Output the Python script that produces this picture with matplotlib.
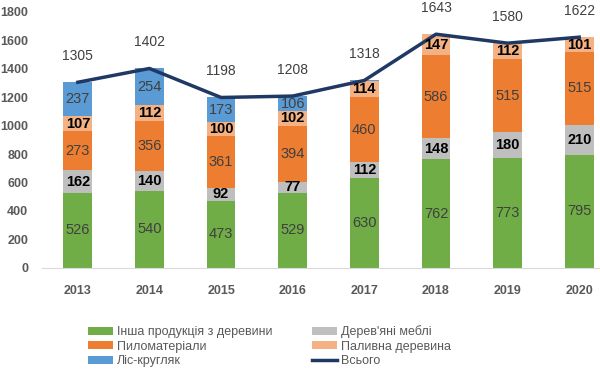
import numpy as np
from matplotlib import pyplot as plt

years = ['2013', '2014', '2015', '2016', '2017', '2018', '2019', '2020']

# values, thousand units
other_wood = [526, 540, 473, 529, 630, 762, 773, 795]
furniture = [162, 140, 92, 77, 112, 148, 180, 210]
sawn_timber = [273, 356, 361, 394, 460, 586, 515, 515]
fuel_wood = [107, 112, 100, 102, 114, 147, 112, 101]
round_wood = [237, 254, 173, 106, 2, 0, 0, 0]
total = [1305, 1402, 1198, 1208, 1318, 1643, 1580, 1622]

series = [
    ('Інша продукція з деревини', other_wood, '#70AD47', False),
    ("Дерев'яні меблі", furniture, '#BFBFBF', True),
    ('Пиломатеріали', sawn_timber, '#ED7D31', False),
    ('Паливна деревина', fuel_wood, '#F4B183', True),
    ('Ліс-кругляк', round_wood, '#5B9BD5', False),
]

plt.rcParams['font.family'] = ['Liberation Sans', 'DejaVu Sans']

fig = plt.figure(figsize=(6, 3.71), dpi=100)
ax = fig.add_axes([0.07, 0.278, 0.93, 0.69])

x = np.arange(len(years))
bottom = np.zeros(len(years))
handles = {}
for name, vals, color, bold in series:
    vals = np.array(vals, dtype=float)
    bars = ax.bar(x, vals, width=0.4, bottom=bottom, color=color, label=name)
    handles[name] = bars
    for xi, b, v in zip(x, bottom, vals):
        if v < 20:
            continue
        ax.text(xi, b + v / 2, str(int(v)), ha='center', va='center',
                fontsize=10.5, color='black' if bold else '#404040',
                fontweight='bold' if bold else 'normal')
    bottom += vals

line, = ax.plot(x, total, color='#1F3864', linewidth=2.5, label='Всього')
for xi, t in zip(x, total):
    ax.annotate(str(t), (xi, t), xytext=(0, 14), textcoords='offset points',
                ha='center', va='bottom', fontsize=10, color='#404040')

ax.set_ylim(0, 1800)
ax.set_yticks(range(0, 1801, 200))
ax.set_xlim(-0.5, 7.29)
ax.set_xticks(x)
ax.set_xticklabels(years)
for s in ['top', 'right', 'left']:
    ax.spines[s].set_visible(False)
ax.spines['bottom'].set_color('#D9D9D9')
ax.tick_params(axis='both', length=0, labelsize=9, colors='#595959')
ax.tick_params(axis='x', pad=12)
ax.tick_params(axis='y', pad=10)
for lbl in ax.get_xticklabels() + ax.get_yticklabels():
    lbl.set_fontweight('bold')

order = ['Інша продукція з деревини', 'Пиломатеріали', 'Ліс-кругляк',
         "Дерев'яні меблі", 'Паливна деревина']
hs = [handles[n] for n in order[:3]] + [handles[n] for n in order[3:]] + [line]
ls = order + ['Всього']
fig.legend(hs, ls, ncol=2, loc='lower left', bbox_to_anchor=(0.128, -0.02),
           frameon=False, fontsize=9, handlelength=2.0, handleheight=0.6,
           labelspacing=0.2, columnspacing=3.2, handletextpad=0.3,
           labelcolor='#595959')

fig.savefig('out.png', dpi=100)
